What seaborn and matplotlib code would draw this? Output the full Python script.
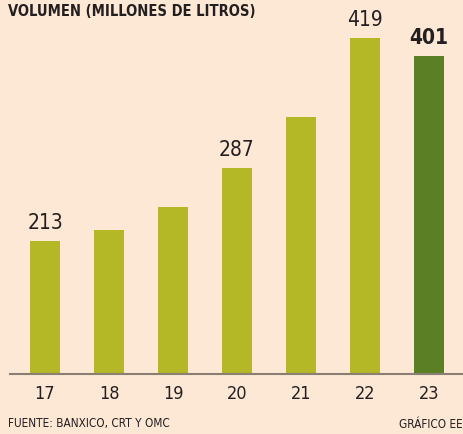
import matplotlib
matplotlib.use("Agg")
import matplotlib.pyplot as plt
import seaborn as sns
import pandas as pd

years = ["17", "18", "19", "20", "21", "22", "23"]
volumen = [213, 224, 248, 287, 339, 419, 401]
labels = ["213", "", "", "287", "", "419", "401"]
colores = ["#b4b826"] * 6 + ["#5b7f24"]

bg = "#fde7d5"
txt = "#231f20"

sns.set_style("white")
plt.rcParams["font.family"] = ["DejaVu Sans"]
plt.rcParams["font.stretch"] = "condensed"

df = pd.DataFrame({"year": years, "vol": volumen})

fig = plt.figure(figsize=(4.64, 4.34), dpi=100, facecolor=bg)
ax = fig.add_axes([10 / 464, 60 / 434, 454 / 464, 374 / 434])
ax.set_facecolor(bg)

sns.barplot(data=df, x="year", y="vol", hue="year", palette=colores,
            legend=False, width=0.47, saturation=1, linewidth=0, ax=ax)

ax.set_xlim(-0.547, 6.547)
ax.set_ylim(78, 457.7)

# etiquetas sobre barras
for i, (v, lab) in enumerate(zip(volumen, labels)):
    if lab:
        ax.text(i, v + 8, lab, ha="center", va="bottom", fontsize=15,
                color=txt, fontweight="bold" if i == 6 else "normal")

for s in ["top", "right", "left"]:
    ax.spines[s].set_visible(False)
ax.spines["bottom"].set_color("#8a7f74")
ax.spines["bottom"].set_linewidth(1.5)
ax.set_yticks([])
ax.tick_params(axis="x", length=0, labelsize=13, labelcolor=txt, pad=8)
ax.set_xlabel("")
ax.set_ylabel("")

fig.text(8 / 464, 1 - 12 / 434, "VOLUMEN (MILLONES DE LITROS)", ha="left",
         va="center", fontsize=10.5, fontweight="bold", color=txt)
fig.text(8 / 464, 10 / 434, "FUENTE: BANXICO, CRT Y OMC", ha="left",
         va="center", fontsize=8.5, color=txt)
fig.text(463 / 464, 10 / 434, "GRÁFICO EE", ha="right",
         va="center", fontsize=8.5, color=txt)

fig.savefig("out.png", dpi=100, facecolor=bg)
